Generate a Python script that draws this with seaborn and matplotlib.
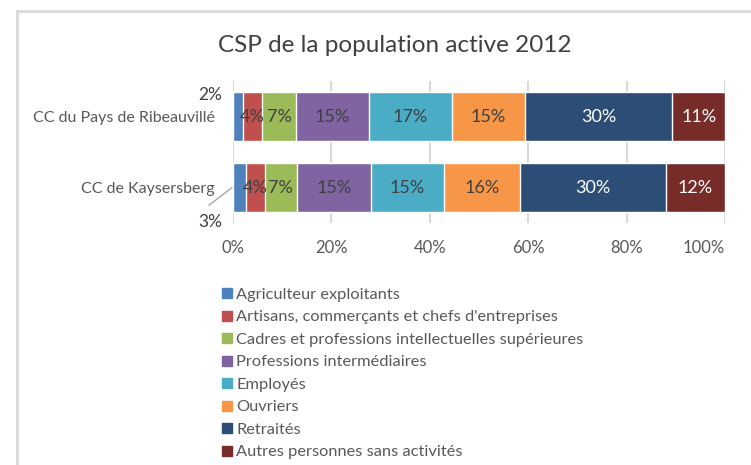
import numpy as np
import pandas as pd
import matplotlib
matplotlib.use("Agg")
import matplotlib.pyplot as plt
from matplotlib.lines import Line2D
import seaborn as sns

territories = ["CC du Pays de Ribeauvillé", "CC de Kaysersberg"]
categories = [
    "Agriculteur exploitants",
    "Artisans, commerçants et chefs d'entreprises",
    "Cadres et professions intellectuelles supérieures",
    "Professions intermédiaires",
    "Employés",
    "Ouvriers",
    "Retraités",
    "Autres personnes sans activités",
]
ribeauville = [2.0, 3.9, 6.9, 14.8, 17.0, 14.7, 30.0, 10.7]
kaysersberg = [2.6, 3.8, 6.6, 15.0, 14.8, 15.6, 29.6, 12.0]
colors = ["#4F81BD", "#C0504D", "#9BBB59", "#8064A2",
          "#4BACC6", "#F79646", "#2C4D75", "#772C2A"]
label_colors = ["#404040"] * 6 + ["white", "white"]
x_ticks = [0, 20, 40, 60, 80, 100]

df = pd.DataFrame([ribeauville, kaysersberg], index=territories, columns=categories)
cum = df.cumsum(axis=1)

sns.set_theme(style="white")
plt.rcParams["font.family"] = ["Lato", "DejaVu Sans"]

fig = plt.figure(figsize=(7.51, 4.65), dpi=100)
ax = fig.add_axes([0.3103, 0.5204, 0.6551, 0.3054])

# stacked bars: draw cumulative totals from the last category to the first
for cat, col in zip(reversed(categories), reversed(colors)):
    sns.barplot(x=cum[cat].values, y=territories, color=col, orient="h",
                width=0.69, saturation=1, ax=ax, zorder=3)

# segment labels
for i, terr in enumerate(territories):
    vals = df.loc[terr].values
    lefts = cum.loc[terr].values - vals
    for j, (v, l) in enumerate(zip(vals, lefts)):
        txt = f"{round(v):.0f}%"
        if j == 0:
            if i == 0:
                ax.text(-2.2, i - 0.30, txt, ha="right", va="center",
                        fontsize=12.5, color="#404040")
            else:
                ax.text(-2.2, i + 0.49, txt, ha="right", va="center",
                        fontsize=12.5, color="#404040")
                ax.plot([-4.9, -0.2], [i + 0.25, i], color="#A6A6A6", lw=1,
                        clip_on=False, zorder=5)
            continue
        ax.text(l + v / 2, i, txt, ha="center", va="center",
                fontsize=13, color=label_colors[j], zorder=4)

ax.set_xlim(0, 100)
ax.set_ylim(1.5, -0.5)
ax.set_xticks(x_ticks)
ax.set_xticklabels([f"{t}%" for t in x_ticks])
ax.get_xticklabels()[-1].set_horizontalalignment("right")
ax.xaxis.grid(True, color="#D9D9D9", linewidth=1.5, zorder=0)
ax.set_axisbelow(True)
for s in ax.spines.values():
    s.set_visible(False)
ax.tick_params(axis="x", labelsize=12, colors="#595959", length=0, pad=12)
ax.tick_params(axis="y", labelsize=11.5, colors="#595959", length=0, pad=13)
ax.set_xlabel("")
ax.set_ylabel("")

fig.text(0.526, 0.903, "CSP de la population active 2012", ha="center",
         va="center", fontsize=17.5, color="#404040")

handles = [Line2D([0], [0], marker="s", linestyle="", markersize=7,
                  markerfacecolor=c, markeredgecolor=c) for c in colors]
fig.legend(handles, categories, loc="upper left", bbox_to_anchor=(0.294, 0.382),
           frameon=False, fontsize=11.8, labelcolor="#595959",
           handlelength=0.7, handletextpad=0.25, labelspacing=0.49,
           borderaxespad=0, borderpad=0)

# chart border (top and left edges visible)
fig.add_artist(Line2D([0.023, 0.023], [0.0, 0.976], color="#D9D9D9", lw=2,
                      transform=fig.transFigure))
fig.add_artist(Line2D([0.023, 1.0], [0.976, 0.976], color="#D9D9D9", lw=2,
                      transform=fig.transFigure))

fig.savefig("out.png", dpi=100)
